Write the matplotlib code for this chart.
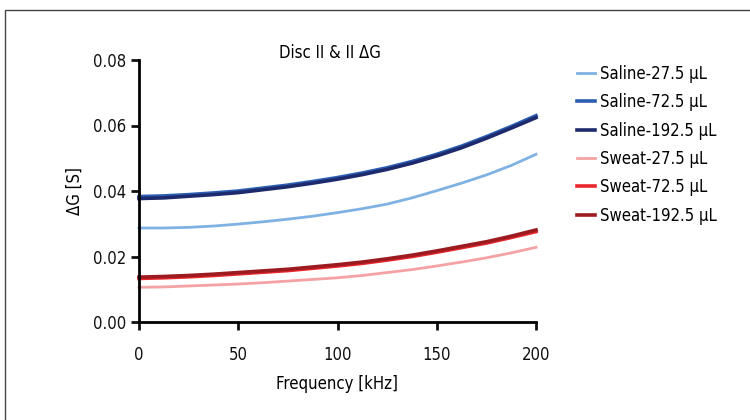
import matplotlib
matplotlib.use("Agg")
import matplotlib.pyplot as plt
from matplotlib.patches import Rectangle
from matplotlib.ticker import FormatStrFormatter

plt.rcParams['font.family'] = ['DejaVu Sans']
plt.rcParams['font.stretch'] = 'condensed'

freq = [0, 12.5, 25, 37.5, 50, 62.5, 75, 87.5, 100, 112.5, 125, 137.5, 150, 162.5, 175, 187.5, 200]
saline_27 = [0.0287, 0.0287, 0.0289, 0.0293, 0.0299, 0.0306, 0.0314, 0.0323, 0.0334, 0.0346, 0.0360, 0.0379, 0.0401, 0.0424, 0.0449, 0.0478, 0.0512]
saline_72 = [0.0383, 0.0385, 0.0389, 0.0394, 0.0400, 0.0409, 0.0418, 0.0429, 0.0441, 0.0455, 0.0471, 0.0490, 0.0512, 0.0537, 0.0566, 0.0597, 0.0630]
saline_192 = [0.0377, 0.0379, 0.0384, 0.0389, 0.0395, 0.0404, 0.0413, 0.0424, 0.0436, 0.0450, 0.0466, 0.0485, 0.0507, 0.0532, 0.0561, 0.0592, 0.0624]
sweat_27 = [0.0106, 0.0107, 0.0110, 0.0113, 0.0116, 0.0120, 0.0125, 0.0130, 0.0135, 0.0142, 0.0151, 0.0160, 0.0171, 0.0183, 0.0196, 0.0211, 0.0228]
sweat_72 = [0.0133, 0.0135, 0.0138, 0.0142, 0.0147, 0.0152, 0.0157, 0.0164, 0.0171, 0.0179, 0.0189, 0.0200, 0.0213, 0.0227, 0.0241, 0.0258, 0.0276]
sweat_192 = [0.0137, 0.0139, 0.0142, 0.0146, 0.0151, 0.0156, 0.0161, 0.0168, 0.0175, 0.0183, 0.0193, 0.0204, 0.0217, 0.0231, 0.0245, 0.0262, 0.0281]

series = [
    ("Saline-27.5 µL", saline_27, "#7fb2e3", 2.0),
    ("Saline-72.5 µL", saline_72, "#2b5db0", 2.6),
    ("Saline-192.5 µL", saline_192, "#1e2a6e", 2.6),
    ("Sweat-27.5 µL", sweat_27, "#f4a2a4", 2.0),
    ("Sweat-72.5 µL", sweat_72, "#e8262b", 2.6),
    ("Sweat-192.5 µL", sweat_192, "#9c1b20", 2.6),
]

fig = plt.figure(figsize=(7.5, 4.2), dpi=100)
ax = fig.add_axes([139/750, 98/420, 397/750, 262/420])

for label, vals, color, lw in series:
    ax.plot(freq, vals, color=color, lw=lw, label=label, clip_on=False)

ax.set_xlim(0, 200)
ax.set_ylim(0, 0.08)
ax.set_xticks([0, 50, 100, 150, 200])
ax.set_yticks([0, 0.02, 0.04, 0.06, 0.08])
ax.yaxis.set_major_formatter(FormatStrFormatter("%.2f"))
for s in ["top", "right"]:
    ax.spines[s].set_visible(False)
for s in ["left", "bottom"]:
    ax.spines[s].set_linewidth(2)
ax.tick_params(direction="out", length=6, width=2, labelsize=12, colors="#111111")
ax.tick_params(axis="x", pad=11)

ax.set_xlabel("Frequency [kHz]", fontsize=12, labelpad=8)
ax.set_ylabel("ΔG [S]", fontsize=12, labelpad=6)
ax.text(330/750, 1 - 53/420, "Disc II & II ΔG", transform=fig.transFigure,
        ha="center", va="center", fontsize=12)

fig.legend(loc="upper left", bbox_to_anchor=(562/750, 1 - 50/420), frameon=False,
           fontsize=12, handlelength=1.1, handletextpad=0.3, labelspacing=0.62)

fig.patches.append(Rectangle((5/750, -0.1), 1.2, 1.1 - 10/420, transform=fig.transFigure,
                             fill=False, ec="#444444", lw=1))

fig.savefig("out.png", dpi=100)
